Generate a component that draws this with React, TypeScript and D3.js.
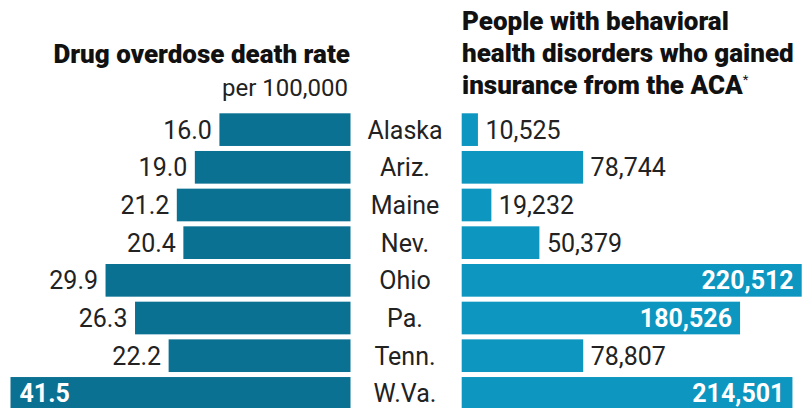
import React from "react";
import * as d3 from "d3";

const states = ["Alaska", "Ariz.", "Maine", "Nev.", "Ohio", "Pa.", "Tenn.", "W.Va."];
const deathRates = [16.0, 19.0, 21.2, 20.4, 29.9, 26.3, 22.2, 41.5];
const gainedInsurance = [10525, 78744, 19232, 50379, 220512, 180526, 78807, 214501];

const leftTitle = "Drug overdose death rate";
const leftSubtitle = "per 100,000";
const rightTitle = ["People with behavioral", "health disorders who gained", "insurance from the ACA"];

const width = 802;
const height = 408;
const leftEdge = 350.5; // bars grow leftward from here
const rightEdge = 461.7; // bars grow rightward from here
const barMax = 340;
const font = "Roboto, 'Noto Sans', sans-serif";

const App = () => {
  const y = d3
    .scaleBand()
    .domain(states)
    .range([113.3, 409.7])
    .paddingInner(0.133)
    .paddingOuter(0);

  const xLeft = d3.scaleLinear().domain([0, d3.max(deathRates)]).range([0, barMax]);
  const xRight = d3.scaleLinear().domain([0, d3.max(gainedInsurance)]).range([0, barMax]);
  const fmt = d3.format(",");

  const bh = y.bandwidth();

  return (
    <svg
      width={width}
      height={height}
      style={{ position: "absolute", left: 0, top: 0, background: "#fff" }}
      fontFamily={font}
    >
      {/* left header */}
      <text x={350} y={62.5} textAnchor="end" fontWeight={900} fontSize={26} fill="#111">
        {leftTitle}
      </text>
      <text x={348} y={95.5} textAnchor="end" fontSize={24} fill="#222">
        {leftSubtitle}
      </text>

      {/* right header */}
      {rightTitle.map((line, i) => (
        <text key={line} x={462} y={29.5 + i * 32} fontWeight={900} fontSize={26} fill="#111">
          {line}
          {i === rightTitle.length - 1 && (
            <tspan fontSize={13} dy={-10} fontWeight="normal">
              *
            </tspan>
          )}
        </text>
      ))}

      {states.map((s, i) => {
        const yy = y(s);
        const cy = yy + bh / 2;
        const dv = deathRates[i];
        const gv = gainedInsurance[i];
        const lw = xLeft(dv);
        const rw = xRight(gv);
        const leftInside = dv > 40;
        const rightInside = gv > 150000;
        return (
          <g key={s}>
            <rect x={leftEdge - lw} y={yy} width={lw} height={bh} fill="#0b7192" />
            <text
              x={leftInside ? leftEdge - lw + 9 : leftEdge - lw - 7.5}
              y={cy + 9}
              textAnchor={leftInside ? "start" : "end"}
              fontSize={25}
              fontWeight={leftInside ? "bold" : "normal"}
              fill={leftInside ? "#fff" : "#222"}
            >
              {dv.toFixed(1)}
            </text>

            <text x={405} y={cy + 9} textAnchor="middle" fontSize={25} fill="#222">
              {s}
            </text>

            <rect x={rightEdge} y={yy} width={rw} height={bh} fill="#0c96c0" />
            <text
              x={rightInside ? rightEdge + rw - 8 : rightEdge + rw + 7.5}
              y={cy + 9}
              textAnchor={rightInside ? "end" : "start"}
              fontSize={25}
              fontWeight={rightInside ? "bold" : "normal"}
              fill={rightInside ? "#fff" : "#222"}
            >
              {fmt(gv)}
            </text>
          </g>
        );
      })}
    </svg>
  );
};

export default App;
